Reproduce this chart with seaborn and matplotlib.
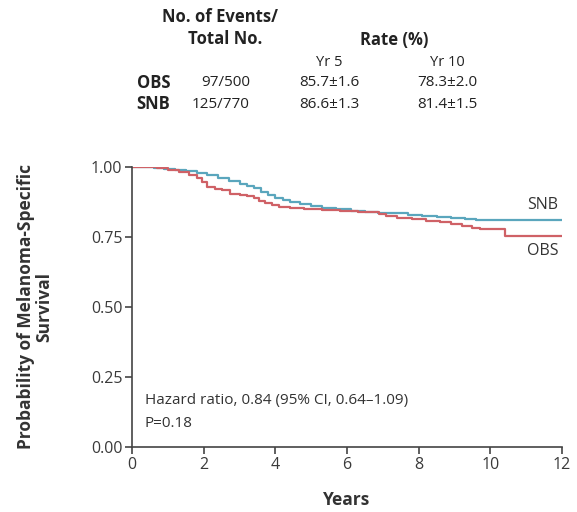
import matplotlib
matplotlib.use("Agg")
import matplotlib.pyplot as plt
import seaborn as sns
import pandas as pd

# ---- data ----
snb_t = [0.0, 0.3, 0.6, 0.9, 1.2, 1.5, 1.8, 2.1, 2.4, 2.7, 3.0, 3.2, 3.4, 3.6, 3.8, 4.0, 4.2, 4.4,
         4.7, 5.0, 5.3, 5.7, 6.1, 6.5, 6.85, 7.3, 7.7, 8.1, 8.5, 8.9, 9.3, 9.6, 12.0]
snb_s = [1.000, 0.999, 0.997, 0.994, 0.990, 0.985, 0.978, 0.970, 0.961, 0.951, 0.940, 0.932, 0.923,
         0.912, 0.900, 0.890, 0.881, 0.874, 0.866, 0.859, 0.854, 0.849, 0.844, 0.840, 0.837, 0.834,
         0.830, 0.825, 0.820, 0.816, 0.813, 0.811, 0.811]

obs_t = [0.0, 0.4, 0.7, 1.0, 1.3, 1.6, 1.8, 1.95, 2.1, 2.3, 2.5, 2.74, 3.0, 3.2, 3.4, 3.55, 3.7, 3.9,
         4.1, 4.4, 4.8, 5.3, 5.8, 6.3, 6.9, 7.1, 7.4, 7.8, 8.2, 8.6, 8.9, 9.2, 9.5, 9.7, 10.4, 12.0]
obs_s = [1.000, 0.999, 0.996, 0.990, 0.983, 0.972, 0.960, 0.945, 0.930, 0.922, 0.916, 0.905, 0.900,
         0.896, 0.888, 0.877, 0.870, 0.863, 0.858, 0.853, 0.850, 0.845, 0.841, 0.838, 0.833, 0.826,
         0.819, 0.813, 0.808, 0.802, 0.797, 0.790, 0.782, 0.779, 0.754, 0.754]

groups = ["OBS", "SNB"]
events = ["97/500", "125/770"]
yr5 = ["85.7\u00b11.6", "86.6\u00b11.3"]
yr10 = ["78.3\u00b12.0", "81.4\u00b11.5"]

x_ticks = [0, 2, 4, 6, 8, 10, 12]
y_ticks = [0.00, 0.25, 0.50, 0.75, 1.00]

colors = {"SNB": "#5aa6bd", "OBS": "#cf6166"}

df = pd.concat([
    pd.DataFrame({"Years": snb_t, "Survival": snb_s, "Group": "SNB"}),
    pd.DataFrame({"Years": obs_t, "Survival": obs_s, "Group": "OBS"}),
])

sns.set_style("white")
plt.rcParams["font.family"] = ["Open Sans", "DejaVu Sans"]

fig = plt.figure(figsize=(5.77, 5.12), dpi=100)
ax = fig.add_axes([0.229, 0.127, 0.745, 0.547])

sns.lineplot(data=df, x="Years", y="Survival", hue="Group", palette=colors,
             estimator=None, drawstyle="steps-post", linewidth=1.6,
             legend=False, ax=ax)

ax.set_xlim(0, 12)
ax.set_ylim(0, 1.0)
ax.set_xticks(x_ticks)
ax.set_xticklabels([str(v) for v in x_ticks])
ax.set_yticks(y_ticks)
ax.set_yticklabels([f"{v:.2f}" for v in y_ticks])
ax.tick_params(axis="both", direction="out", length=5, width=1.2, colors="#444444",
               labelsize=11.5, labelcolor="#3a3a3a", pad=2, bottom=True, left=True)
for side in ["top", "right"]:
    ax.spines[side].set_visible(False)
for side in ["left", "bottom"]:
    ax.spines[side].set_color("#444444")
    ax.spines[side].set_linewidth(1.2)

ax.set_xlabel("Years", fontsize=12.5, fontweight="bold", color="#333333", labelpad=13)
ax.set_ylabel("Probability of Melanoma-Specific\nSurvival", fontsize=12.5,
              fontweight="bold", color="#333333", labelpad=27, linespacing=1.0)

ax.text(11.9, 0.835, "SNB", ha="right", va="bottom", fontsize=11.5, color="#333333")
ax.text(11.9, 0.73, "OBS", ha="right", va="top", fontsize=11.5, color="#333333")
ax.text(0.35, 0.165, "Hazard ratio, 0.84 (95% CI, 0.64\u20131.09)", fontsize=11,
        color="#333333", va="center")
ax.text(0.35, 0.085, "P=0.18", fontsize=11, color="#333333", va="center")

# header table
tc = "#222222"
fig.text(220 / 577, 1 - 17 / 512, "No. of Events/", ha="center", va="center",
         fontsize=12, fontweight="bold", color=tc)
fig.text(225 / 577, 1 - 39 / 512, "Total No.", ha="center", va="center",
         fontsize=12, fontweight="bold", color=tc)
fig.text(394 / 577, 1 - 40 / 512, "Rate (%)", ha="center", va="center",
         fontsize=12, fontweight="bold", color=tc)
fig.text(329 / 577, 1 - 62 / 512, "Yr 5", ha="center", va="center", fontsize=10.5, color=tc)
fig.text(447 / 577, 1 - 62 / 512, "Yr 10", ha="center", va="center", fontsize=10.5, color=tc)
row_y = [83, 104]
for i, g in enumerate(groups):
    y = 1 - row_y[i] / 512
    fig.text(170 / 577, y, g, ha="right", va="center", fontsize=12, fontweight="bold", color=tc)
    fig.text(250 / 577, y, events[i], ha="right", va="center", fontsize=11, color=tc)
    fig.text(329 / 577, y, yr5[i], ha="center", va="center", fontsize=11, color=tc)
    fig.text(447 / 577, y, yr10[i], ha="center", va="center", fontsize=11, color=tc)

fig.savefig("out.png", dpi=100)
